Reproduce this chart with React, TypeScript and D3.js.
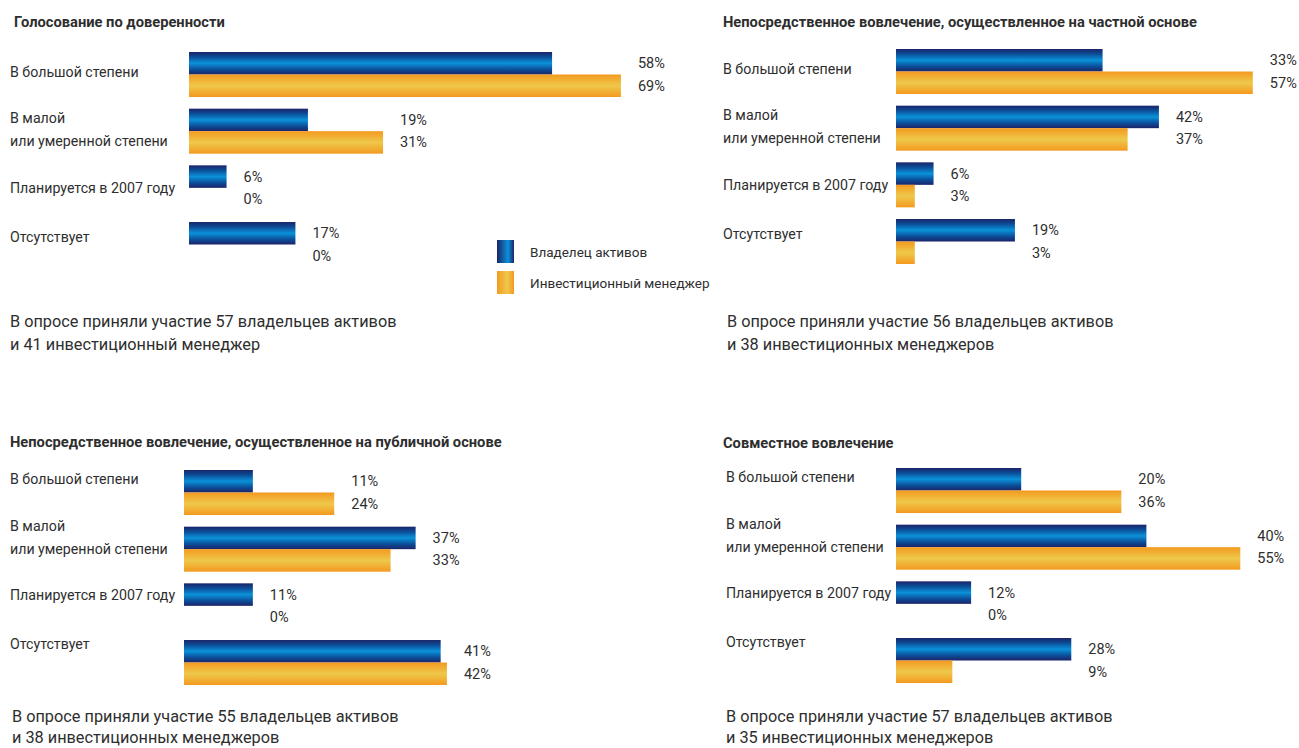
import React from "react";
import * as d3 from "d3";

// ---------- data ----------
const categories = [
  "В большой степени",
  "В малой|или умеренной степени",
  "Планируется в 2007 году",
  "Отсутствует",
];
const seriesNames = ["Владелец активов", "Инвестиционный менеджер"];

const titles = [
  "Голосование по доверенности",
  "Непосредственное вовлечение, осуществленное на частной основе",
  "Непосредственное вовлечение, осуществленное на публичной основе",
  "Совместное вовлечение",
];

const proxyOwners = [58, 19, 6, 17];
const proxyManagers = [69, 31, 0, 0];
const privateOwners = [33, 42, 6, 19];
const privateManagers = [57, 37, 3, 3];
const publicOwners = [11, 37, 11, 41];
const publicManagers = [24, 33, 0, 42];
const jointOwners = [20, 40, 12, 28];
const jointManagers = [36, 55, 0, 9];

const ownerCounts = [57, 56, 55, 57];
const managerNotes = [
  "и 41 инвестиционный менеджер",
  "и 38 инвестиционных менеджеров",
  "и 38 инвестиционных менеджеров",
  "и 35 инвестиционных менеджеров",
];

// ---------- layout ----------
const W = 1299;
const H = 748;
const FONT = "Roboto, 'Noto Sans', sans-serif";
const TEXT = "#2e2e2e";
const STEP = 56.67;
const GROUP_H = 45;
const PX_PER_100 = 626;
const labelNudge = [3, -7, 6, -2];

const panels = [
  { titleX: 14, titleY: 27, labelX: 10, barX: 189, barTop: 52, labelBase: 16.6, footX: 10, footY: 327, footGap: 23, owners: proxyOwners, managers: proxyManagers },
  { titleX: 723, titleY: 27, labelX: 723, barX: 896, barTop: 49, labelBase: 16.6, footX: 727, footY: 327, footGap: 23, owners: privateOwners, managers: privateManagers },
  { titleX: 10, titleY: 447, labelX: 10, barX: 184, barTop: 470, labelBase: 6, footX: 12, footY: 722, footGap: 21, owners: publicOwners, managers: publicManagers },
  { titleX: 723, titleY: 448, labelX: 726, barX: 896, barTop: 468, labelBase: 6, footX: 726, footY: 722, footGap: 21, owners: jointOwners, managers: jointManagers },
];

const fills = ["url(#gBlue)", "url(#gOrange)"];
const legendFills = ["url(#gBlueH)", "url(#gOrangeH)"];

function Panel({ p, i }: { p: any; i: number }) {
  const x = d3.scaleLinear().domain([0, 100]).range([p.barX, p.barX + PX_PER_100]);
  const pad = (STEP - GROUP_H) / STEP;
  const y = d3
    .scaleBand<string>()
    .domain(categories)
    .range([p.barTop, p.barTop + 3 * STEP + GROUP_H])
    .paddingInner(pad)
    .paddingOuter(0);
  const sub = d3.scaleBand<string>().domain(seriesNames).range([0, y.bandwidth()]);

  return (
    <g>
      <text x={p.titleX} y={p.titleY} fontFamily={FONT} fontWeight={700} fontSize={14.7} fill={TEXT}>
        {titles[i]}
      </text>
      {categories.map((c, ci) => {
        const top = y(c)!;
        const lines = c.split("|");
        const vals = [p.owners[ci], p.managers[ci]];
        const maxV = d3.max(vals)!;
        const labelX = x(maxV) + 17;
        return (
          <g key={c}>
            {lines.map((ln, li) => (
              <text
                key={li}
                x={p.labelX}
                y={top + p.labelBase + labelNudge[ci] + li * 23 + 5}
                fontFamily={FONT}
                fontSize={14.2}
                fill={TEXT}
              >
                {ln}
              </text>
            ))}
            {seriesNames.map((s, si) => {
              const v = vals[si];
              const by = top + sub(s)!;
              return (
                <g key={s}>
                  {v > 0 && (
                    <rect x={x(0)} y={by} width={x(v) - x(0)} height={sub.bandwidth()} fill={fills[si]} />
                  )}
                  <text
                    x={labelX}
                    y={by + sub.bandwidth() / 2 + 5}
                    fontFamily={FONT}
                    fontSize={14.5}
                    fill={TEXT}
                  >
                    {v}%
                  </text>
                </g>
              );
            })}
          </g>
        );
      })}
      <text x={p.footX} y={p.footY} fontFamily={FONT} fontSize={16.3} fill={TEXT}>
        {`В опросе приняли участие ${ownerCounts[i]} владельцев активов`}
      </text>
      <text x={p.footX} y={p.footY + p.footGap} fontFamily={FONT} fontSize={16.3} fill={TEXT}>
        {managerNotes[i]}
      </text>
    </g>
  );
}

export default function App() {
  return (
    <div style={{ position: "absolute", left: 0, top: 0, width: W, height: H, background: "#fff" }}>
      <svg width={W} height={H} style={{ display: "block" }}>
        <defs>
          <linearGradient id="gBlue" x1="0" y1="0" x2="0" y2="1">
            <stop offset="0%" stopColor="#1b2468" />
            <stop offset="22%" stopColor="#0c4d98" />
            <stop offset="50%" stopColor="#0a92d9" />
            <stop offset="78%" stopColor="#0c4d98" />
            <stop offset="100%" stopColor="#1b2468" />
          </linearGradient>
          <linearGradient id="gOrange" x1="0" y1="0" x2="0" y2="1">
            <stop offset="0%" stopColor="#f39a1f" />
            <stop offset="50%" stopColor="#eec84b" />
            <stop offset="100%" stopColor="#f39a1f" />
          </linearGradient>
          <linearGradient id="gBlueH" x1="0" y1="0" x2="1" y2="0">
            <stop offset="0%" stopColor="#1b2468" />
            <stop offset="65%" stopColor="#0a92d9" />
            <stop offset="100%" stopColor="#1b2468" />
          </linearGradient>
          <linearGradient id="gOrangeH" x1="0" y1="0" x2="1" y2="0">
            <stop offset="0%" stopColor="#f39a1f" />
            <stop offset="60%" stopColor="#eec84b" />
            <stop offset="100%" stopColor="#f39a1f" />
          </linearGradient>
        </defs>
        {panels.map((p, i) => (
          <Panel key={i} p={p} i={i} />
        ))}
        <g>
          {seriesNames.map((s, si) => (
            <g key={s}>
              <rect x={497} y={240 + si * 31} width={17} height={23} fill={legendFills[si]} />
              <text x={530} y={240 + si * 31 + 16.5} fontFamily={FONT} fontSize={13.5} fill={TEXT}>
                {s}
              </text>
            </g>
          ))}
        </g>
      </svg>
    </div>
  );
}
